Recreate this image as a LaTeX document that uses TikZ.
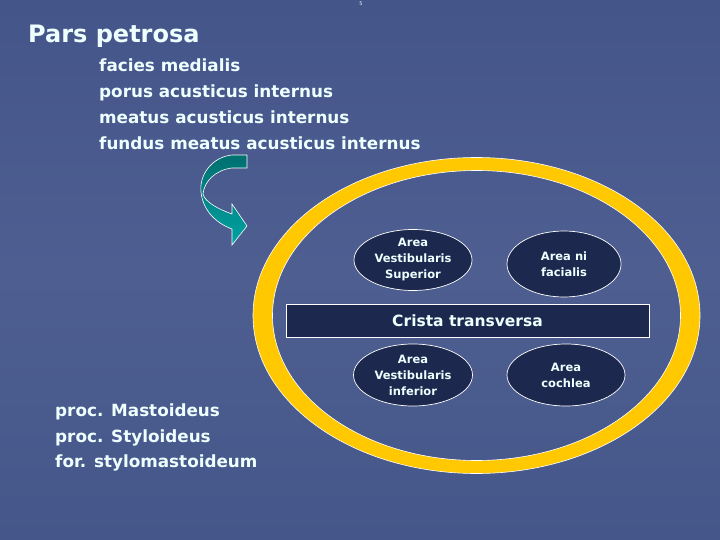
\documentclass[tikz,border=0pt]{standalone}
\usepackage{fontspec}
\setmainfont{DejaVu Sans}
\usetikzlibrary{shapes.geometric}
\definecolor{bgtop}{HTML}{44558A}
\definecolor{bgmid}{HTML}{4E5E91}
\definecolor{bgbot}{HTML}{45578A}
\definecolor{navy}{HTML}{1C284E}
\definecolor{ringyellow}{HTML}{FFC800}
\definecolor{txt}{HTML}{EEFFFF}
\definecolor{tealdark}{HTML}{006F70}
\definecolor{teallight}{HTML}{00A3A3}
\tikzset{
  listtext/.style={anchor=base west, inner sep=0pt, text=txt, font=\bfseries\fontsize{16.8}{26}\selectfont},
  areabox/.style={ellipse, draw=white, line width=0.7pt, fill=navy, inner sep=0pt,
     text=txt, align=center, font=\bfseries\fontsize{11.5}{16}\selectfont},
  cristabox/.style={rectangle, draw=white, line width=0.8pt, fill=navy, inner sep=0pt,
     text=txt, font=\bfseries\fontsize{15.5}{18}\selectfont, minimum width=363pt, minimum height=33pt}
}
\begin{document}
\begin{tikzpicture}[x=1pt,y=-1pt]
\useasboundingbox (0,0) rectangle (720,540);
\shade[top color=bgtop, bottom color=bgbot, middle color=bgmid] (0,0) rectangle (720,540);
% tiny mark
\node[inner sep=0pt, text=txt, font=\fontsize{5}{5}\selectfont] (mark) at (361,4) {5};
% title
\node[anchor=base west, inner sep=0pt, text=txt, font=\bfseries\fontsize{24}{30}\selectfont] (title) at (28,43) {Pars petrosa};
\node[listtext] (l1) at (99,72) {facies medialis};
\node[listtext] (l2) at (99,98) {porus acusticus internus};
\node[listtext] (l3) at (99,124) {meatus acusticus internus};
\node[listtext] (l4) at (99,150) {fundus meatus acusticus internus};
% bottom left list
\node[listtext] (b1) at (55,416) {proc. Mastoideus};
\node[listtext] (b2) at (55,442) {proc. Styloideus};
\node[listtext] (b3) at (55,467) {for. stylomastoideum};
% yellow ring
\fill[ringyellow, even odd rule, draw=white, line width=0.6pt]
  (476.5,315.5) ellipse [x radius=223.5, y radius=158]
  (476.5,315.5) ellipse [x radius=204, y radius=145];
% curved arrow
\shade[top color=tealdark, bottom color=teallight, draw=white, line width=0.6pt]
  (247,155) -- (232,155) .. controls (212,157) and (199,175) .. (201,192)
  .. controls (203,212) and (218,224) .. (232,229) -- (232,245) -- (247,226) -- (232,204) -- (232,214)
  .. controls (218,209) and (205,202) .. (203,194)
  .. controls (204,182) and (215,170) .. (232,168) -- (247,168) -- cycle;
% areas
\node[areabox, minimum width=118pt, minimum height=61pt] (avs) at (413,260) {Area\\Vestibularis\\Superior};
\node[areabox, minimum width=114pt, minimum height=66pt] (anf) at (564,264) {Area ni\\facialis};
\node[cristabox] (crista) at (467.5,320.5) {Crista transversa};
\node[areabox, minimum width=119pt, minimum height=62pt] (avi) at (413,375) {Area\\Vestibularis\\inferior};
\node[areabox, minimum width=118pt, minimum height=62pt] (ac) at (566,375) {Area\\cochlea};
\end{tikzpicture}
\end{document}
